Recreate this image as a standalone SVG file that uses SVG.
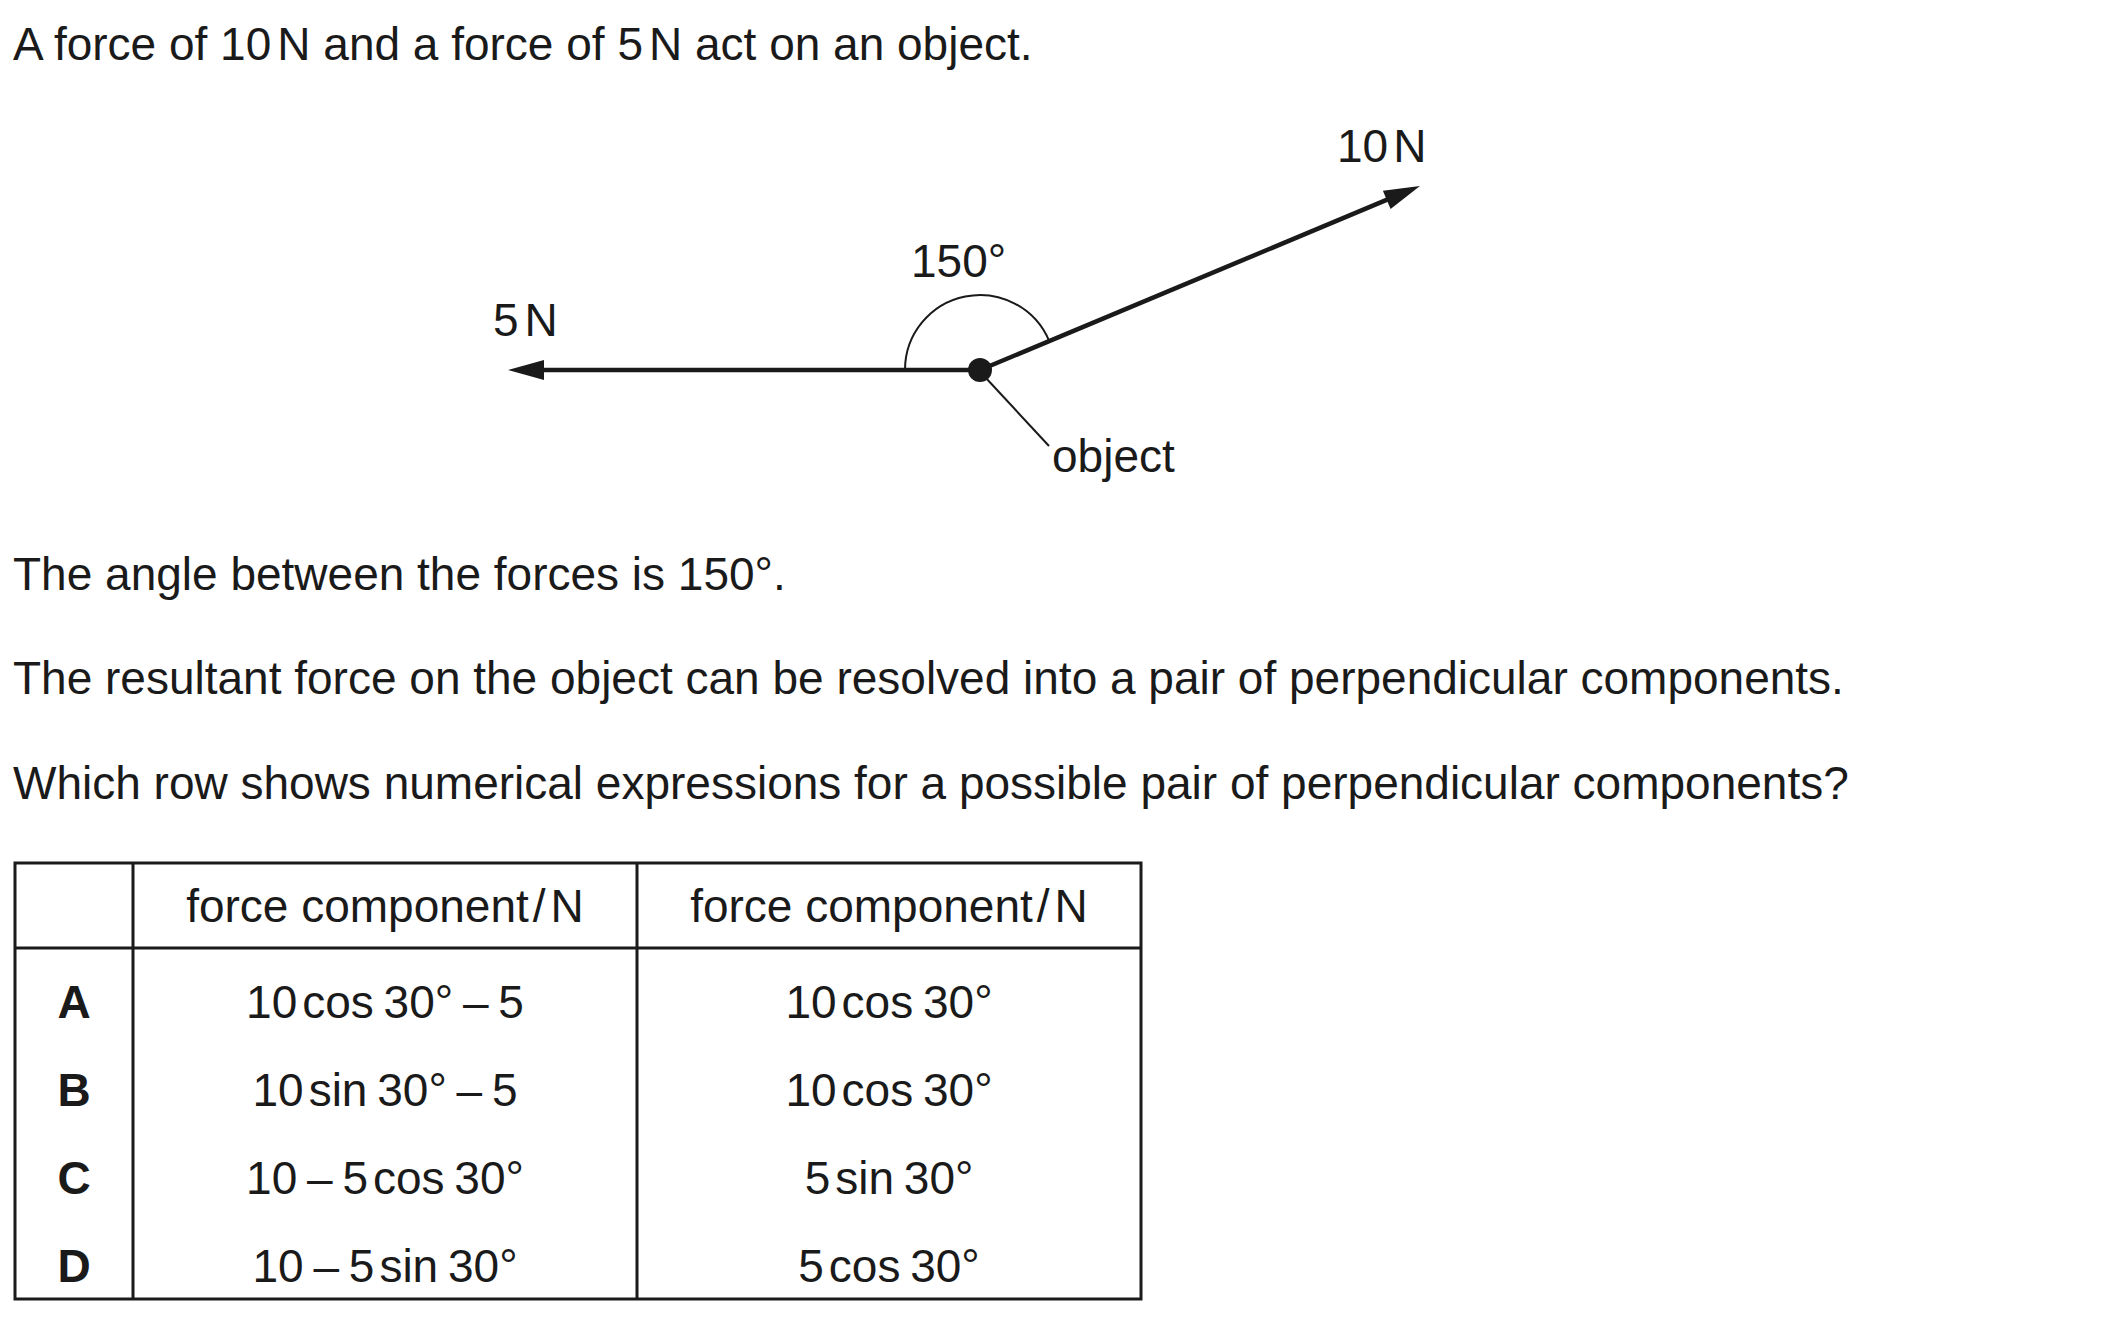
<svg xmlns="http://www.w3.org/2000/svg" width="2101" height="1323" viewBox="0 0 2101 1323">
<style>
  text { font-family: "Liberation Sans", Arial, sans-serif; font-size: 46px; fill: #1a1a1a; }
  .c { text-anchor: middle; }
  .b { font-weight: bold; }
  .e { word-spacing: -3px; }
  .rule { stroke: #1a1a1a; stroke-width: 3; fill: none; }
  .force { stroke: #1a1a1a; stroke-width: 4.5; fill: none; }
  .thin { stroke: #1a1a1a; stroke-width: 2; fill: none; }
</style>
<defs>
  <marker id="ah" markerUnits="userSpaceOnUse" markerWidth="40" markerHeight="24" viewBox="-18 -12 40 24" refX="0" refY="0" orient="auto">
    <path d="M20,0 L-16,-10 L-16,10 Z" fill="#1a1a1a"/>
  </marker>
</defs>
<rect width="2101" height="1323" fill="#ffffff"/>

<g id="intro"><text x="13" y="60">A force of 10<tspan dx="6">N</tspan> and a force of 5<tspan dx="6">N</tspan> act on an object.</text></g>

<g id="connectors">
  <line class="force" x1="980" y1="370" x2="1401.5" y2="193.7" marker-end="url(#ah)"/>
  <line class="force" x1="980" y1="370" x2="528" y2="370" marker-end="url(#ah)"/>
  <line class="thin" x1="985" y1="377" x2="1049" y2="446"/>
</g>

<g id="angle-arc"><path class="thin" d="M905,370 A75,75 0 0 1 1049.2,341.1"/></g>
<g id="object"><circle cx="980" cy="370" r="12" fill="#1a1a1a"/></g>
<g id="label-10N"><text x="1337" y="162">10<tspan dx="5">N</tspan></text></g>
<g id="label-5N"><text x="493" y="336">5<tspan dx="6">N</tspan></text></g>
<g id="label-150"><text x="911" y="277">150°</text></g>
<g id="label-object"><text x="1052" y="472">object</text></g>

<g id="text-angle"><text x="13" y="590">The angle between the forces is 150°.</text></g>
<g id="text-resultant"><text x="13" y="694">The resultant force on the object can be resolved into a pair of perpendicular components.</text></g>
<g id="text-question"><text x="13" y="799">Which row shows numerical expressions for a possible pair of perpendicular components?</text></g>

<g id="table">
  <rect class="rule" x="15" y="863" width="1126" height="436"/>
  <line class="rule" x1="15" y1="948" x2="1141" y2="948"/>
  <line class="rule" x1="133" y1="863" x2="133" y2="1299"/>
  <line class="rule" x1="637" y1="863" x2="637" y2="1299"/>
  <text class="c" x="385" y="922">force component<tspan dx="4">/</tspan><tspan dx="5">N</tspan></text>
  <text class="c" x="889" y="922">force component<tspan dx="4">/</tspan><tspan dx="5">N</tspan></text>
  <text class="c b" x="74" y="1018">A</text>
  <text class="c b" x="74" y="1106">B</text>
  <text class="c b" x="74" y="1194">C</text>
  <text class="c b" x="74" y="1282">D</text>
  <text class="c e" x="385" y="1018">10<tspan dx="5">cos</tspan> 30° – 5</text>
  <text class="c e" x="889" y="1018">10<tspan dx="5">cos</tspan> 30°</text>
  <text class="c e" x="385" y="1106">10<tspan dx="5">sin</tspan> 30° – 5</text>
  <text class="c e" x="889" y="1106">10<tspan dx="5">cos</tspan> 30°</text>
  <text class="c e" x="385" y="1194">10 – 5<tspan dx="5">cos</tspan> 30°</text>
  <text class="c e" x="889" y="1194">5<tspan dx="5">sin</tspan> 30°</text>
  <text class="c e" x="385" y="1282">10 – 5<tspan dx="5">sin</tspan> 30°</text>
  <text class="c e" x="889" y="1282">5<tspan dx="5">cos</tspan> 30°</text>
</g>
</svg>
